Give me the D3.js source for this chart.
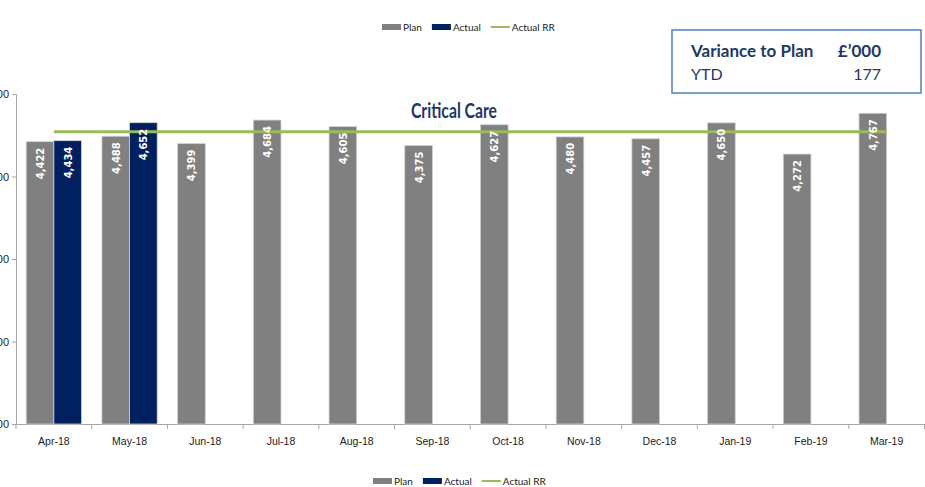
<!DOCTYPE html>
<html>
<head>
<meta charset="utf-8">
<script src="https://cdn.jsdelivr.net/npm/d3@7"></script>
<style>
  body { margin: 0; background: #fff; }
  svg { display: block; font-family: Lato, "Liberation Sans", sans-serif; }
</style>
</head>
<body>
<script>
const months = ["Apr-18", "May-18", "Jun-18", "Jul-18", "Aug-18", "Sep-18",
  "Oct-18", "Nov-18", "Dec-18", "Jan-19", "Feb-19", "Mar-19"];
const plan = [4422, 4488, 4399, 4684, 4605, 4375, 4627, 4480, 4457, 4650, 4272, 4767];
const actual = [4434, 4652];
const actualRR = 4543;
const yTicks = [1000, 2000, 3000, 4000, 5000];
const varianceYTD = 177;

const width = 925, height = 487;
const plotLeft = 16, plotRight = 924.5, plotTop = 94, plotBottom = 424;

const planColor = "#808080";
const actualColor = "#002060";
const rrColor = "#9BBB59";
const navy = "#1F3864";

const svg = d3.select("body").append("svg")
  .attr("width", width).attr("height", height);

const x = d3.scaleBand().domain(months).range([plotLeft, plotRight]).paddingInner(0).paddingOuter(0);
const barW = x.bandwidth() * 0.365;
const gap = (x.bandwidth() - 2 * barW) / 2;
const y = d3.scaleLinear().domain([1000, 5000]).range([plotBottom, plotTop]);
const fmt = d3.format(",");

// y axis (labels partly off the left edge, as in the source)
const yAxis = svg.append("g")
  .attr("transform", `translate(${plotLeft},0)`)
  .call(d3.axisLeft(y).tickValues(yTicks).tickFormat(fmt).tickSize(4).tickPadding(3));
yAxis.select(".domain").attr("stroke", "#a6a6a6");
yAxis.selectAll(".tick line").attr("stroke", "#a6a6a6");
yAxis.selectAll(".tick text").attr("font-size", 11).attr("fill", "#222");

// x axis
const xAxis = svg.append("g")
  .attr("transform", `translate(0,${plotBottom})`)
  .call(d3.axisBottom(x).tickSize(0).tickPadding(14));
xAxis.select(".domain").attr("stroke", "#a6a6a6");
xAxis.selectAll(".tick text").attr("font-size", 10.5).attr("fill", "#222");
svg.append("g").selectAll("line")
  .data(months.concat(["end"]))
  .enter().append("line")
  .attr("x1", (d, i) => plotLeft + i * x.bandwidth())
  .attr("x2", (d, i) => plotLeft + i * x.bandwidth())
  .attr("y1", plotBottom).attr("y2", plotBottom + 5)
  .attr("stroke", "#a6a6a6");

// bars
svg.append("g").selectAll("rect")
  .data(plan).enter().append("rect")
  .attr("x", (d, i) => x(months[i]) + gap)
  .attr("y", d => y(d))
  .attr("width", barW)
  .attr("height", d => plotBottom - y(d))
  .attr("fill", planColor)
  .attr("stroke", "#d0d0d0").attr("stroke-width", 0.8);

svg.append("g").selectAll("rect")
  .data(actual).enter().append("rect")
  .attr("x", (d, i) => x(months[i]) + gap + barW)
  .attr("y", d => y(d))
  .attr("width", barW)
  .attr("height", d => plotBottom - y(d))
  .attr("fill", actualColor)
  .attr("stroke", "#d0d0d0").attr("stroke-width", 0.8);

// actual run rate line
svg.append("line")
  .attr("x1", x(months[0]) + x.bandwidth() / 2)
  .attr("x2", x(months[months.length - 1]) + x.bandwidth() / 2)
  .attr("y1", y(actualRR)).attr("y2", y(actualRR))
  .attr("stroke", rrColor).attr("stroke-width", 3);

// data labels, on top of everything
function barLabels(values, offset) {
  svg.append("g").selectAll("text")
    .data(values).enter().append("text")
    .attr("transform", (d, i) => `translate(${x(months[i]) + gap + barW * offset + 4},${y(d) + 6}) rotate(-90)`)
    .attr("text-anchor", "end")
    .attr("font-family", "DejaVu Sans, sans-serif")
    .attr("font-size", 10)
    .attr("font-weight", "bold")
    .attr("fill", "#fff")
    .text(d => fmt(d));
}
barLabels(plan, 0.5);
barLabels(actual, 1.5);

// title
svg.append("text")
  .attr("x", 411).attr("y", 118)
  .attr("textLength", 86).attr("lengthAdjust", "spacingAndGlyphs")
  .attr("font-size", 21).attr("font-weight", "bold")
  .attr("fill", navy)
  .text("Critical Care");

// legends
function legend(cx, cy) {
  const g = svg.append("g").attr("transform", `translate(${cx},${cy})`);
  const items = [
    { label: "Plan", type: "rect", color: planColor },
    { label: "Actual", type: "rect", color: actualColor },
    { label: "Actual RR", type: "line", color: rrColor }
  ];
  let pos = 0;
  items.forEach(it => {
    if (it.type === "rect") {
      g.append("rect").attr("x", pos).attr("y", -3).attr("width", 19).attr("height", 6).attr("fill", it.color);
    } else {
      g.append("line").attr("x1", pos).attr("x2", pos + 19).attr("y1", 0).attr("y2", 0)
        .attr("stroke", it.color).attr("stroke-width", 2);
    }
    const t = g.append("text").attr("x", pos + 21).attr("y", 3.5)
      .attr("font-size", 10).attr("fill", "#222").text(it.label);
    pos += 21 + t.node().getComputedTextLength() + 10;
  });
}
legend(382, 27);
legend(373, 481);

// variance box
svg.append("rect")
  .attr("x", 672).attr("y", 30).attr("width", 249).attr("height", 63)
  .attr("fill", "#fff").attr("stroke", "#4F81BD").attr("stroke-width", 1.5);
svg.append("text").attr("x", 691).attr("y", 57)
  .attr("font-size", 17).attr("font-weight", "bold").attr("fill", navy)
  .text("Variance to Plan");
svg.append("text").attr("x", 881).attr("y", 57).attr("text-anchor", "end")
  .attr("font-size", 17).attr("font-weight", "bold").attr("fill", navy)
  .text("£’000");
svg.append("text").attr("x", 691).attr("y", 80)
  .attr("font-size", 16).attr("fill", navy)
  .text("YTD");
svg.append("text").attr("x", 881).attr("y", 80).attr("text-anchor", "end")
  .attr("font-size", 16).attr("fill", navy)
  .text(varianceYTD);
</script>
</body>
</html>
